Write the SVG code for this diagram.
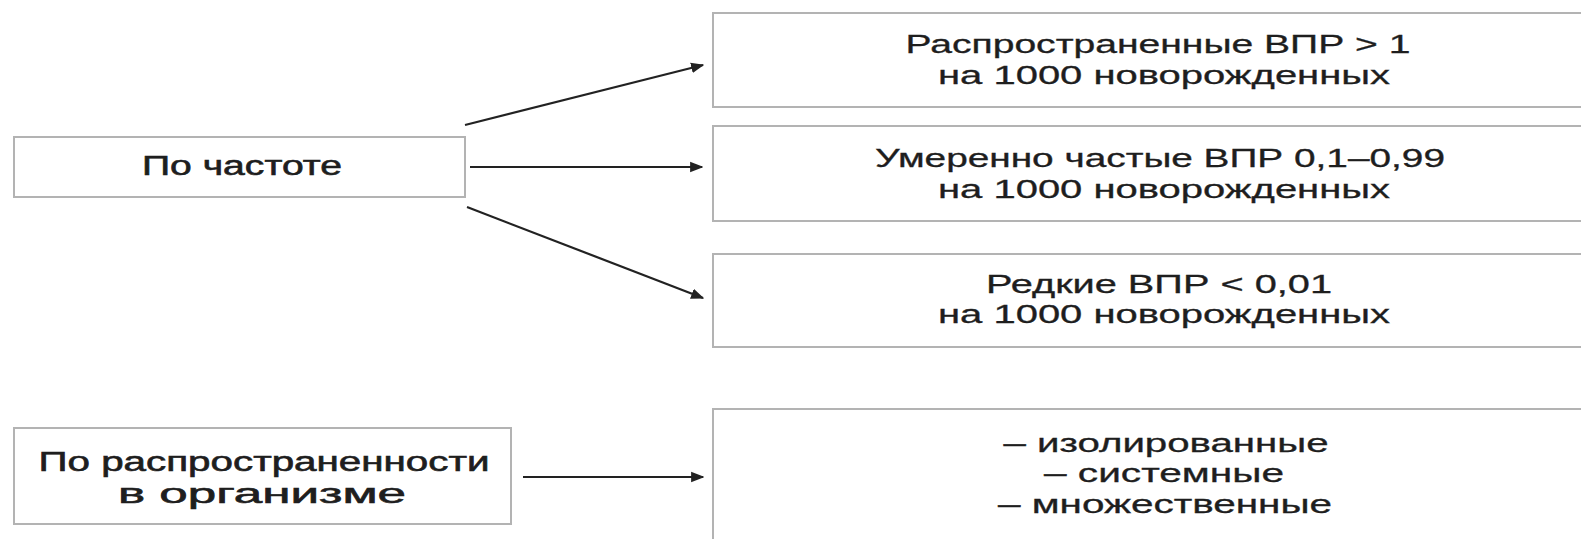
<svg xmlns="http://www.w3.org/2000/svg" width="1581" height="539" viewBox="0 0 1581 539">
<style>
.box{fill:#fff;stroke:#b3b3b3;stroke-width:2}
.t{font-family:"Liberation Sans",Arial,sans-serif;font-size:25px;fill:#1e1e1e;stroke:#1e1e1e;stroke-width:0.3;text-anchor:middle}
.l{font-size:27px;stroke-width:0.6}
.c{stroke:#222;stroke-width:2.2;fill:none;marker-end:url(#ah)}
</style>
<defs>
<marker id="ah" viewBox="0 0 10 10" refX="9" refY="5" markerWidth="6" markerHeight="6" markerUnits="strokeWidth" orient="auto">
<path d="M0,1 L10,5 L0,9 Z" fill="#222"/>
</marker>
</defs>
<rect width="1581" height="539" fill="#fff"/>
<g id="connectors">
<line class="c" x1="465" y1="125" x2="703" y2="65"/>
<line class="c" x1="470" y1="167" x2="702" y2="167"/>
<line class="c" x1="467" y1="207" x2="703" y2="298"/>
<line class="c" x1="523" y1="477" x2="703" y2="477"/>
</g>
<g id="node-freq">
<rect class="box" x="14" y="137" width="451" height="60"/>
<text class="t l" x="242" y="175" textLength="200" lengthAdjust="spacingAndGlyphs">По частоте</text>
</g>
<g id="node-common">
<rect class="box" x="713" y="13" width="900" height="94"/>
<text class="t" x="1158" y="53" textLength="505" lengthAdjust="spacingAndGlyphs">Распространенные ВПР &gt; 1</text>
<text class="t" x="1164" y="84" textLength="452" lengthAdjust="spacingAndGlyphs">на 1000 новорожденных</text>
</g>
<g id="node-moderate">
<rect class="box" x="713" y="126" width="900" height="95"/>
<text class="t" x="1160" y="167" textLength="570" lengthAdjust="spacingAndGlyphs">Умеренно частые ВПР 0,1–0,99</text>
<text class="t" x="1164" y="198" textLength="452" lengthAdjust="spacingAndGlyphs">на 1000 новорожденных</text>
</g>
<g id="node-rare">
<rect class="box" x="713" y="254" width="900" height="93"/>
<text class="t" x="1159" y="293" textLength="346" lengthAdjust="spacingAndGlyphs">Редкие ВПР &lt; 0,01</text>
<text class="t" x="1164" y="323" textLength="452" lengthAdjust="spacingAndGlyphs">на 1000 новорожденных</text>
</g>
<g id="node-spread">
<rect class="box" x="14" y="428" width="497" height="96"/>
<text class="t l" x="264" y="471" textLength="451" lengthAdjust="spacingAndGlyphs">По распространенности</text>
<text class="t l" x="262" y="503" textLength="288" lengthAdjust="spacingAndGlyphs">в организме</text>
</g>
<g id="node-types">
<rect class="box" x="713" y="409" width="900" height="160"/>
<text class="t" x="1166" y="452" textLength="325" lengthAdjust="spacingAndGlyphs">– изолированные</text>
<text class="t" x="1164" y="482" textLength="240" lengthAdjust="spacingAndGlyphs">– системные</text>
<text class="t" x="1165" y="513" textLength="334" lengthAdjust="spacingAndGlyphs">– множественные</text>
</g>
</svg>
